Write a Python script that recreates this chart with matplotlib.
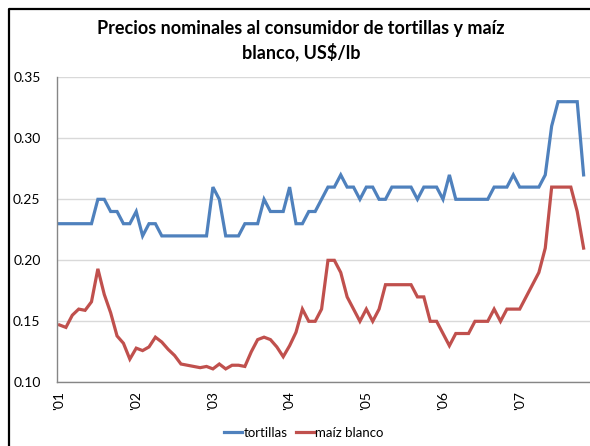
import matplotlib.pyplot as plt
from matplotlib.lines import Line2D
import numpy as np

plt.rcParams['font.family'] = ['Lato', 'DejaVu Sans']

# monthly prices, Jan 2001 - Nov 2007 (US$/lb)
tortillas = [0.23, 0.23, 0.23, 0.23, 0.23, 0.23, 0.25, 0.25, 0.24, 0.24, 0.23, 0.23,
             0.24, 0.22, 0.23, 0.23, 0.22, 0.22, 0.22, 0.22, 0.22, 0.22, 0.22, 0.22,
             0.26, 0.25, 0.22, 0.22, 0.22, 0.23, 0.23, 0.23, 0.25, 0.24, 0.24, 0.24,
             0.26, 0.23, 0.23, 0.24, 0.24, 0.25, 0.26, 0.26, 0.27, 0.26, 0.26, 0.25,
             0.26, 0.26, 0.25, 0.25, 0.26, 0.26, 0.26, 0.26, 0.25, 0.26, 0.26, 0.26,
             0.25, 0.27, 0.25, 0.25, 0.25, 0.25, 0.25, 0.25, 0.26, 0.26, 0.26, 0.27,
             0.26, 0.26, 0.26, 0.26, 0.27, 0.31, 0.33, 0.33, 0.33, 0.33, 0.27]
maiz_blanco = [0.147, 0.145, 0.155, 0.160, 0.159, 0.166, 0.193, 0.172, 0.157, 0.138, 0.132, 0.119,
               0.128, 0.126, 0.129, 0.137, 0.133, 0.127, 0.122, 0.115, 0.114, 0.113, 0.112, 0.113,
               0.111, 0.115, 0.111, 0.114, 0.114, 0.113, 0.125, 0.135, 0.137, 0.135, 0.129, 0.121,
               0.130, 0.141, 0.160, 0.150, 0.150, 0.160, 0.200, 0.200, 0.190, 0.170, 0.160, 0.150,
               0.160, 0.150, 0.160, 0.180, 0.180, 0.180, 0.180, 0.180, 0.170, 0.170, 0.150, 0.150,
               0.140, 0.130, 0.140, 0.140, 0.140, 0.150, 0.150, 0.150, 0.160, 0.150, 0.160, 0.160,
               0.160, 0.170, 0.180, 0.190, 0.210, 0.260, 0.260, 0.260, 0.260, 0.240, 0.210]
year_labels = ["'01", "'02", "'03", "'04", "'05", "'06", "'07"]

months = np.arange(len(tortillas))

fig = plt.figure(figsize=(5.9, 4.46), dpi=100)
ax = fig.add_axes([0.0971, 0.1428, 0.9029, 0.6839])

ax.plot(months, tortillas, color='#4F81BD', lw=2.3, label='tortillas', solid_joinstyle='miter')
ax.plot(months, maiz_blanco, color='#C0504D', lw=2.3, label='maíz blanco', solid_joinstyle='miter')

ax.set_ylim(0.10, 0.35)
ax.set_yticks(np.arange(0.10, 0.351, 0.05))
ax.set_yticklabels(['%.2f' % v for v in np.arange(0.10, 0.351, 0.05)], fontsize=10)
ax.set_xlim(-0.35, 83.0)
ax.set_xticks(months[::12])
ax.set_xticklabels(year_labels, rotation=90, fontsize=10, va='top')
ax.tick_params(length=0)
ax.tick_params(axis='y', pad=12)
ax.tick_params(axis='x', pad=6)
ax.yaxis.grid(True, color='#D9D9D9', lw=1)
ax.set_axisbelow(True)
for side in ['top', 'right']:
    ax.spines[side].set_visible(False)
for side in ['left', 'bottom']:
    ax.spines[side].set_color('#868686')
    ax.spines[side].set_linewidth(1)

fig.text(0.51, 0.910, 'Precios nominales al consumidor de tortillas y maíz\nblanco, US$/lb',
         ha='center', va='center', fontsize=13, fontweight='bold', linespacing=1.35)

fig.legend(loc='center', bbox_to_anchor=(0.515, 0.029), ncol=2, frameon=False, fontsize=9.5,
           handlelength=1.4, handletextpad=0.1, columnspacing=0.6)

# outer chart frame
fig.add_artist(Line2D([9 / 590, 9 / 590, 1.0], [0.0, 1 - 9 / 446, 1 - 9 / 446],
                      transform=fig.transFigure, color='black', lw=1.6))

fig.savefig('out.png', dpi=100)
